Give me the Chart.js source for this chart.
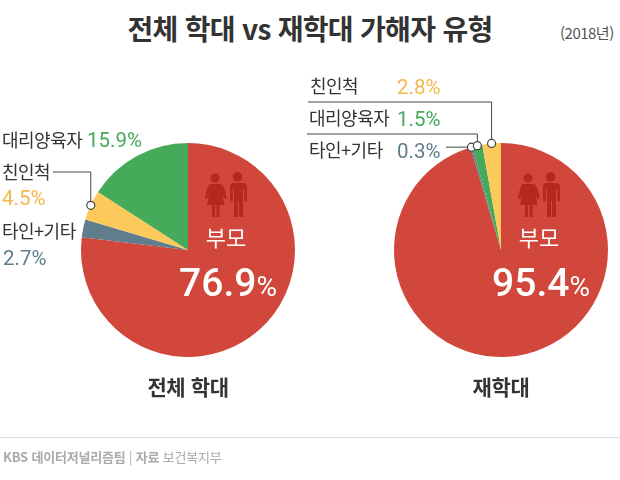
<!DOCTYPE html>
<html lang="ko">
<head>
<meta charset="utf-8">
<title>전체 학대 vs 재학대 가해자 유형</title>
<script src="https://cdn.jsdelivr.net/npm/chart.js@4"></script>
<style>
  html, body { margin: 0; padding: 0; background: #fff; overflow: hidden; }
  #page { position: relative; width: 620px; height: 480px; overflow: hidden; font-family: "Noto Sans CJK KR", "Noto Sans", sans-serif; color: #333; }
  #page canvas { position: absolute; }
  .t { position: absolute; white-space: nowrap; line-height: 1; }
  .num { font-family: Roboto, sans-serif; }
  .lbl { font-size: 18px; color: #333; letter-spacing: -0.5px; }
  .pct { font-size: 20.500px; font-family: Roboto, sans-serif; }
  .rule { position: absolute; left: 0; top: 437px; width: 620px; height: 1px; background: #ddd; }
  svg { position: absolute; }
</style>
</head>
<body>
<div id="page">
  <div class="t" style="left:310px;top:14px;transform:translateX(-50%);font-size:28px;font-weight:700;letter-spacing:-0.7px;color:#333" id="title"></div>
  <div class="t" style="left:560px;top:25px;font-size:15px;letter-spacing:-0.5px;color:#555" id="year"></div>

  <canvas id="allChart" style="left:0;top:80px;width:310px;height:340px"></canvas>
  <canvas id="reChart" style="left:300px;top:80px;width:320px;height:340px"></canvas>

  <svg width="620" height="480" style="left:0;top:0" aria-hidden="true">
    <defs>
      <g id="people" fill="#b5281f">
        <circle cx="215" cy="178" r="4.5"/>
        <path d="M210 184h10c2.500 0 3.500 2 4.500 5l2 8c.4 2-2 2.500-2.500 1l-1.500-4 2 11h-5v12h-3v-12h-1.500v12h-3v-12h-5l2-11-1.500 4c-.5 1.500-3 1-2.500-1l2-8c1-3 2-5 3-5z"/>
        <circle cx="237.500" cy="176.800" r="4.800"/>
        <path d="M232 183h11c2.500 0 4 1.500 4 4v13c0 2-2.800 2-2.800 0v-11h-1.200v28h-4v-16h-1v16h-4v-28h-1.200v11c0 2-2.800 2-2.800 0v-13c0-2.500 1.500-4 3-4z"/>
      </g>
    </defs>
    <use href="#people"/>
    <use href="#people" x="313"/>
  </svg>

  <div class="rule"></div>
  <div class="t" id="footer" style="left:3px;top:450px;font-size:13px;color:#aaa;letter-spacing:-0.2px"></div>
</div>
<script>
const titleText = '전체 학대 vs 재학대 가해자 유형';
const yearText = '(2018년)';
const allCategories = ['부모', '타인+기타', '친인척', '대리양육자'];
const allAbuse = [76.9, 2.7, 4.5, 15.9];
const allColors = ['#d1473b', '#5f7d8c', '#fdc95b', '#45aa5a'];
const reCategories = ['부모', '타인+기타', '대리양육자', '친인척'];
const reAbuse = [95.4, 0.3, 1.5, 2.8];
const reColors = ['#d1473b', '#5f7d8c', '#45aa5a', '#fdc95b'];
const chartNames = ['전체 학대', '재학대'];
const slate = '#5f7d8c', amber = '#f2b84b', green = '#45aa5a';

const page = document.getElementById('page');
document.getElementById('title').textContent = titleText;
document.getElementById('year').textContent = yearText;
document.getElementById('footer').innerHTML = '<b>KBS</b> <b>데이터저널리즘팀</b> | <b>자료</b> 보건복지부';

function addText(text, x, y, cls, style) {
  const el = document.createElement('div');
  el.className = 't ' + cls;
  el.textContent = text;
  el.style.left = x + 'px';
  el.style.top = y + 'px';
  if (style) Object.assign(el.style, style);
  page.appendChild(el);
  return el;
}

// leader lines start at the middle of each slice's outer edge
const leaders = {
  id: 'leaders',
  afterDraw(chart, args, opts) {
    const ctx = chart.ctx;
    const arcs = chart.getDatasetMeta(0).data;
    opts.paths.forEach(p => {
      const a = arcs[p.index];
      const mid = (a.startAngle + a.endAngle) / 2;
      const x = a.x + Math.cos(mid) * a.outerRadius;
      const y = a.y + Math.sin(mid) * a.outerRadius;
      ctx.save();
      ctx.strokeStyle = '#444';
      ctx.lineWidth = 1;
      ctx.beginPath();
      ctx.moveTo(x, y);
      if (p.elbowY !== undefined) {
        ctx.lineTo(x, p.elbowY);
        ctx.lineTo(p.endX, p.elbowY);
      } else {
        ctx.lineTo(p.endX, y);
      }
      ctx.stroke();
      ctx.beginPath();
      ctx.arc(x, y, 4, 0, Math.PI * 2);
      ctx.fillStyle = '#fff';
      ctx.fill();
      ctx.lineWidth = 1.2;
      ctx.stroke();
      ctx.restore();
    });
  }
};

function makePie(id, labels, values, colors, padLeft, paths) {
  return new Chart(document.getElementById(id), {
    type: 'pie',
    data: {
      labels: labels,
      datasets: [{ data: values, backgroundColor: colors, borderWidth: 0 }]
    },
    options: {
      responsive: false,
      animation: false,
      radius: 107,
      layout: { padding: { left: padLeft, right: 0, top: 0, bottom: 0 } },
      plugins: {
        legend: { display: false },
        tooltip: { enabled: false },
        leaders: { paths: paths }
      }
    },
    plugins: [leaders]
  });
}

function sizeCanvas(id, w, h) {
  const c = document.getElementById(id);
  c.width = w; c.height = h;
}
sizeCanvas('allChart', 310, 340);
sizeCanvas('reChart', 320, 340);

// draw order so the outer dots sit on top of the inner leader lines
makePie('allChart', allCategories, allAbuse, allColors, 66, [{ index: 2, elbowY: 92, endX: 53 }]);
makePie('reChart', reCategories, reAbuse, reColors, 82, [
  { index: 3, elbowY: 22, endX: 8 },
  { index: 1, endX: 146 },
  { index: 2, elbowY: 54, endX: 7 }
]);

// centre labels
[[188, allAbuse], [501, reAbuse]].forEach(([cx, vals], i) => {
  addText(allCategories[0], cx + 38, 225, '', { color: '#fff', fontSize: '22px', transform: 'translateX(-50%)' });
  const big = addText('', cx + 40, 264, 'num', { color: '#fff', fontSize: '39px', fontWeight: 500, transform: 'translateX(-50%)' });
  big.innerHTML = vals[0].toFixed(1) + '<span style="font-size:28px;font-weight:400">%</span>';
  addText(chartNames[i], cx, 376, '', { fontSize: '21px', fontWeight: 700, color: '#333', transform: 'translateX(-50%)', letterSpacing: '-0.4px' });
});

// left pie labels
addText(allCategories[3], 2, 130, 'lbl');
addText(allAbuse[3].toFixed(1) + '%', 87, 130, 'pct', { color: green });
addText(allCategories[2], 2, 162, 'lbl');
addText(allAbuse[2].toFixed(1) + '%', 2, 188, 'pct', { color: amber });
addText(allCategories[1], 2, 221, 'lbl');
addText(allAbuse[1].toFixed(1) + '%', 3, 248, 'pct', { color: slate });

// right pie labels
addText(reCategories[3], 310, 76, 'lbl');
addText(reAbuse[3].toFixed(1) + '%', 397, 77, 'pct', { color: amber });
addText(reCategories[2], 309, 108, 'lbl');
addText(reAbuse[2].toFixed(1) + '%', 397, 109, 'pct', { color: green });
addText(reCategories[1], 309, 140, 'lbl');
addText(reAbuse[1].toFixed(1) + '%', 397, 141, 'pct', { color: slate });
</script>
</body>
</html>
